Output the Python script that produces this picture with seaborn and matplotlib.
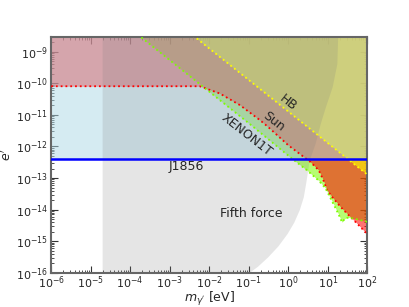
import numpy as np
import pandas as pd
import matplotlib
matplotlib.use('Agg')
import matplotlib.pyplot as plt
import seaborn as sns

# log10 values
# Sun (red dotted)
sun_logm = [-6.0, -2.24, -1.73, -1.22, -0.71, -0.51, 0.0, 0.56, 0.77, 0.89, 0.98, 1.11, 1.32, 1.53, 1.74, 2.0]
sun_loge = [-10.09, -10.09, -10.32, -10.69, -11.17, -11.38, -11.96, -12.49, -12.75, -13.07, -13.38, -13.6, -13.91, -14.18, -14.44, -14.78]

# XENON1T (green dotted)
xenon_logm = [-4.0, -2.0, -1.0, 0.09, 0.47, 0.77, 0.94, 1.11, 1.27, 1.36, 1.44, 1.53, 1.74, 2.0]
xenon_loge = [-8.26, -10.26, -11.26, -12.38, -12.75, -13.08, -13.32, -13.74, -14.14, -14.40, -14.28, -14.25, -14.31, -14.39]

# HB (yellow dotted)
hb_logm = [-2.6, 2.0]
hb_loge = [-8.29, -12.89]

# J1856 (blue)
j1856_e = 4.0e-13

# Fifth force (grey), right boundary
fifth_loge = [-8.3, -8.53, -9.37, -10.11, -10.74, -11.27, -11.90, -12.43, -13.17, -13.6, -14.0, -14.4, -14.76, -15.15, -15.5, -15.8, -16.0]
fifth_logm = [1.26, 1.25, 1.23, 1.11, 0.94, 0.81, 0.68, 0.53, 0.44, 0.38, 0.28, 0.14, -0.03, -0.26, -0.52, -0.78, -1.0]
fifth_left = -4.71

xmin, xmax = 1e-6, 1e2
ymin, ymax = 1e-16, 3e-9
top = 1e-7

sun = pd.DataFrame({'m': 10 ** np.array(sun_logm), 'e': 10 ** np.array(sun_loge)})
xenon = pd.DataFrame({'m': 10 ** np.array(xenon_logm), 'e': 10 ** np.array(xenon_loge)})
hb = pd.DataFrame({'m': 10 ** np.array(hb_logm), 'e': 10 ** np.array(hb_loge)})

sns.set_style('ticks')
plt.rcParams['font.family'] = ['DejaVu Sans']
plt.rcParams['mathtext.fontset'] = 'dejavusans'

fig, ax = plt.subplots(figsize=(4.09, 3.07), dpi=100)
fig.subplots_adjust(left=0.125, right=0.898, top=0.88, bottom=0.112)

ax.set_xscale('log')
ax.set_yscale('log')

# filled regions (green under red, then yellow, light blue, grey)
ax.fill_between(xenon['m'], xenon['e'], top, color='lawngreen', alpha=0.55, lw=0, zorder=1.0)
ax.fill_between(sun['m'], sun['e'], top, color='red', alpha=0.55, lw=0, zorder=1.1)
ax.fill_between(hb['m'], hb['e'], top, color='yellow', alpha=0.6, lw=0, zorder=1.2)
ax.fill_between([xmin, xmax], [j1856_e, j1856_e], top, color='lightblue', alpha=0.5, lw=0, zorder=1.3)
ax.fill_betweenx(10 ** np.array(fifth_loge), 10 ** fifth_left, 10 ** np.array(fifth_logm),
                 color='gray', alpha=0.2, lw=0, zorder=1.4)

# boundary lines
sns.lineplot(data=sun, x='m', y='e', ax=ax, color='red', ls=':', lw=1.3, zorder=3, sort=False)
sns.lineplot(data=xenon, x='m', y='e', ax=ax, color='lawngreen', ls=':', lw=1.3, zorder=3, sort=False)
sns.lineplot(data=hb, x='m', y='e', ax=ax, color='yellow', ls=':', lw=1.3, zorder=3, sort=False)
ax.axhline(j1856_e, color='blue', lw=1.8, zorder=3)

# labels
ax.text(10 ** -2.59, 10 ** -12.65, 'J1856', fontsize=9, ha='center', va='center')
ax.text(10 ** -0.94, 10 ** -14.11, 'Fifth force', fontsize=9, ha='center', va='center')
ax.text(10 ** 0.0, 10 ** -10.61, 'HB', fontsize=9, ha='center', va='center', rotation=-38)
ax.text(10 ** -0.36, 10 ** -11.22, 'Sun', fontsize=9, ha='center', va='center', rotation=-38)
ax.text(10 ** -1.04, 10 ** -11.64, 'XENON1T', fontsize=9, ha='center', va='center', rotation=-38)

ax.set_xlim(xmin, xmax)
ax.set_ylim(ymin, ymax)
ax.set_xticks([10.0 ** k for k in range(-6, 3)])
ax.set_yticks([10.0 ** k for k in range(-16, -8)])
ax.yaxis.set_minor_locator(matplotlib.ticker.LogLocator(base=10, subs=np.arange(2, 10), numticks=20))
ax.xaxis.set_minor_locator(matplotlib.ticker.LogLocator(base=10, subs=np.arange(2, 10), numticks=20))
ax.yaxis.set_minor_formatter(matplotlib.ticker.NullFormatter())
ax.xaxis.set_minor_formatter(matplotlib.ticker.NullFormatter())

ax.tick_params(which='both', direction='in', top=True, right=True, labelsize=8, color='#333333', pad=2)
ax.tick_params(axis='x', which='both', pad=1)
ax.tick_params(which='major', length=5, width=0.8)
ax.tick_params(which='minor', length=2.5, width=0.6)
for s in ax.spines.values():
    s.set_color('#666666')
    s.set_linewidth(1.5)

ax.set_xlabel(r"$m_{\gamma'}$ [eV]", fontsize=9)
ax.set_ylabel(r"$e'$", fontsize=9)
ax.xaxis.set_label_coords(0.5, -0.072)
ax.yaxis.set_label_coords(-0.118, 0.5)

plt.savefig('out.png', dpi=100)
